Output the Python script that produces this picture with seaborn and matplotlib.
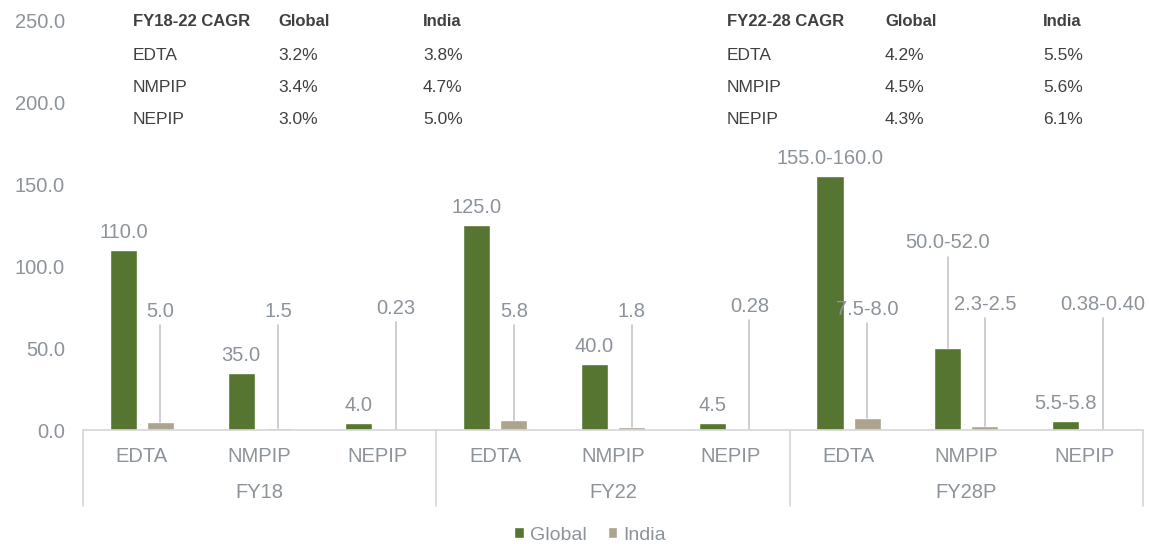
import matplotlib
matplotlib.use("Agg")
import matplotlib.pyplot as plt
from matplotlib.patches import Patch
from matplotlib.transforms import blended_transform_factory
import pandas as pd
import seaborn as sns

# ---- data ----
years = ["FY18", "FY22", "FY28P"]
products = ["EDTA", "NMPIP", "NEPIP"]
series = ["Global", "India"]

global_vals = [110.0, 35.0, 4.0, 125.0, 40.0, 4.5, 155.0, 50.0, 5.5]
india_vals = [5.0, 1.5, 0.23, 5.8, 1.8, 0.28, 7.5, 2.3, 0.38]
global_labels = ["110.0", "35.0", "4.0", "125.0", "40.0", "4.5",
                 "155.0-160.0", "50.0-52.0", "5.5-5.8"]
india_labels = ["5.0", "1.5", "0.23", "5.8", "1.8", "0.28",
                "7.5-8.0", "2.3-2.5", "0.38-0.40"]

cagr_titles = ["FY18-22 CAGR", "FY22-28 CAGR"]
cagr_global = [["3.2%", "3.4%", "3.0%"], ["4.2%", "4.5%", "4.3%"]]
cagr_india = [["3.8%", "4.7%", "5.0%"], ["5.5%", "5.6%", "6.1%"]]

y_ticks = [0, 50, 100, 150, 200, 250]

# ---- styling ----
GREEN = "#557530"
TAUPE = "#aca48f"
TICK_GRAY = "#8c939b"
LINE_GRAY = "#d6d6d6"
LEADER_GRAY = "#c4c7cb"
TABLE_TEXT = "#404040"

# label heights (data units) for labels that sit on leader lines
india_label_y = [69, 69, 71, 69, 69, 72, 70, 73, 73]
global_leader_y = {7: 111}

sns.set_theme(style="white")
plt.rcParams["font.family"] = ["Liberation Sans", "DejaVu Sans"]

slots = [f"{y} {p}" for y in years for p in products]
df = pd.DataFrame({
    "slot": slots * 2,
    "series": ["Global"] * len(slots) + ["India"] * len(slots),
    "value": global_vals + india_vals,
})

fig = plt.figure(figsize=(11.5, 5.44), dpi=100)
ax = fig.add_axes([83 / 1150, 114 / 544, 1060 / 1150, 410 / 544])

sns.barplot(data=df, x="slot", y="value", hue="series", order=slots,
            hue_order=series, palette=[GREEN, TAUPE], width=0.63, gap=0.27,
            saturation=1, legend=False, ax=ax)

ax.set_xlim(-0.5, len(slots) - 0.5)
ax.set_ylim(0, 250)
ax.set_yticks(y_ticks)
ax.set_yticklabels([f"{t:.1f}" for t in y_ticks])
ax.set_xlabel("")
ax.set_ylabel("")
for s in ax.spines.values():
    s.set_visible(False)
ax.tick_params(axis="y", length=0, pad=13, labelsize=14.5, labelcolor=TICK_GRAY)
ax.set_xticks(range(len(slots)))
ax.set_xticklabels(products * len(years))
ax.tick_params(axis="x", length=0, pad=12, labelsize=14.5, labelcolor=TICK_GRAY)

# px -> points at dpi 100
PT = 0.72

g_bars, i_bars = ax.containers[0], ax.containers[1]
for k, bar in enumerate(g_bars):
    cx = bar.get_x() + bar.get_width() / 2
    top = bar.get_height()
    if k in global_leader_y:
        ly = global_leader_y[k]
        ax.text(cx, ly, global_labels[k], ha="center", va="baseline",
                fontsize=14.5, color=TICK_GRAY)
        ax.plot([cx, cx], [ly - 5.5, top], color=LEADER_GRAY, lw=1.2)
    else:
        ax.annotate(global_labels[k], (cx, top), xytext=(0, 12 * PT),
                    textcoords="offset points", ha="center", va="baseline",
                    fontsize=14.5, color=TICK_GRAY)

for k, bar in enumerate(i_bars):
    cx = bar.get_x() + bar.get_width() / 2
    top = bar.get_height()
    ly = india_label_y[k]
    ax.text(cx, ly, india_labels[k], ha="center", va="baseline",
            fontsize=14.5, color=TICK_GRAY)
    ax.plot([cx, cx], [ly - 5.0, top], color=LEADER_GRAY, lw=1.2)

# baseline and group separators
ax.axhline(0, color=LINE_GRAY, lw=1.2, clip_on=False)
trans = blended_transform_factory(ax.transData, ax.transAxes)
n = len(products)
for b in range(len(years) + 1):
    xb = b * n - 0.5
    ax.plot([xb, xb], [0, -76 / 410], color=LINE_GRAY, lw=1.2,
            transform=trans, clip_on=False)
for j, yr in enumerate(years):
    ax.text(j * n + (n - 1) / 2, -62 / 410, yr, transform=trans,
            ha="center", va="center", fontsize=14.5, color=TICK_GRAY)

# CAGR tables
col_x = [[133, 278, 423], [727, 885, 1043]]
row_y = [22, 56, 88, 120]
for t in range(2):
    heads = [cagr_titles[t], "Global", "India"]
    for c in range(3):
        fig.text(col_x[t][c] / 1150, 1 - row_y[0] / 544, heads[c],
                 ha="left", va="center", fontsize=12, fontweight="bold",
                 color=TABLE_TEXT)
    for r, p in enumerate(products):
        vals = [p, cagr_global[t][r], cagr_india[t][r]]
        for c in range(3):
            fig.text(col_x[t][c] / 1150, 1 - row_y[r + 1] / 544, vals[c],
                     ha="left", va="center", fontsize=12.5, color=TABLE_TEXT)

handles = [Patch(facecolor=GREEN, label="Global"),
           Patch(facecolor=TAUPE, label="India")]
leg = fig.legend(handles=handles, loc="center", bbox_to_anchor=(590 / 1150, 1 - 535 / 544),
                 ncol=2, frameon=False, fontsize=14, handlelength=0.5,
                 handleheight=0.5, handletextpad=0.3, columnspacing=1.1)
for txt in leg.get_texts():
    txt.set_color(TICK_GRAY)

fig.savefig("out.png", dpi=100)
